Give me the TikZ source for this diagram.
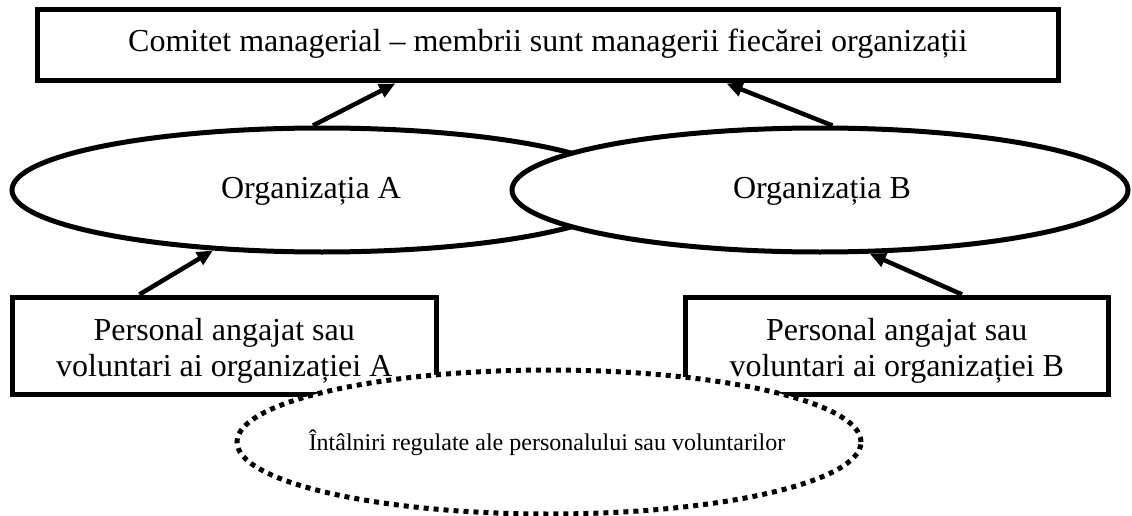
\documentclass[tikz,border=0pt]{standalone}
\usepackage{fontspec}
\setmainfont{Liberation Serif}
\usetikzlibrary{shapes.geometric,arrows.meta}
% two centred lines whose baseline is that of the first line
\newcommand\twolines[2]{\vtop{\baselineskip=36pt\lineskiplimit=-100pt\halign{\hfil##\hfil\cr#1\cr#2\cr}}}
\begin{document}
\begin{tikzpicture}[x=1pt,y=-1pt,
  frame/.style={rectangle, draw, line width=5pt, fill=white, inner sep=0pt},
  orgshape/.style={ellipse, draw, line width=5pt, fill=white, inner sep=0pt,
    minimum width=620pt, minimum height=124pt},
  meetshape/.style={ellipse, draw, line width=5pt, fill=white, inner sep=0pt,
    dash pattern=on 5pt off 5pt, minimum width=624pt, minimum height=144pt},
  link/.style={line width=4.5pt, -{Triangle[length=16pt,width=14pt]}},
  bigtxt/.style={font=\fontsize{32}{36}\selectfont, inner sep=0pt, anchor=base},
  smalltxt/.style={font=\fontsize{24}{28}\selectfont, inner sep=0pt, anchor=base}]
\useasboundingbox (0,0) rectangle (1132,516);

% management committee
\node[frame, minimum width=1020.5pt, minimum height=71pt] (tb) at (547.75,45.5) {};

% the two organisations
\node[orgshape] (ea) at (322,190) {};
\node[orgshape, minimum width=616pt] (eb) at (820,190) {};

\draw[link] (ea.98.3) -- (tb.194.8);
\draw[link] (eb.79) -- (tb.348.9);

% staff / volunteers of each organisation
\node[frame, minimum width=423.5pt, minimum height=97pt] (ba) at (224.25,345.5) {};
\node[frame, minimum width=422.5pt, minimum height=97pt] (bb) at (896.75,345.5) {};

\draw[link] (ba.149.7) -- (ea.209.2);
\draw[link] (bb.38.9) -- (eb.308.4);

% regular meetings
\node[meetshape] (meet) at (549,442) {};

% texts
\node[bigtxt] (tbt) at (547.75,51.7) {Comitet managerial – membrii sunt managerii fiecărei organizații};
\node[bigtxt] (eat) at (311,198) {Organizația A};
\node[bigtxt] (ebt) at (822,198) {Organizația B};
\node[bigtxt] (bat) at (224.25,340.5) {\twolines{Personal angajat sau}{voluntari ai organizației A}};
\node[bigtxt] (bbt) at (896.75,340.5) {\twolines{Personal angajat sau}{voluntari ai organizației B}};
\node[smalltxt] (meett) at (547,450) {Întâlniri regulate ale personalului sau voluntarilor};
\end{tikzpicture}
\end{document}
